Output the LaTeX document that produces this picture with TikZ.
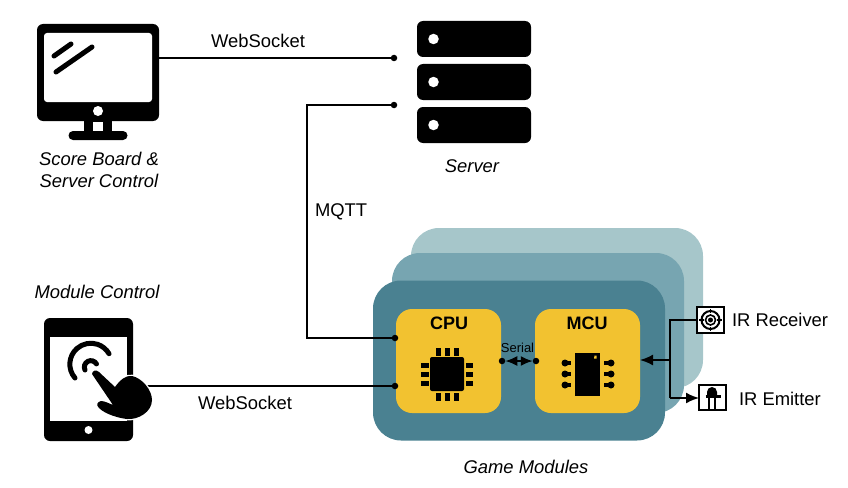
\documentclass[tikz,border=0pt]{standalone}
\usepackage{fontspec}
\setmainfont{Liberation Sans}
\usetikzlibrary{arrows.meta}
\definecolor{stackA}{HTML}{A6C6CA}
\definecolor{stackB}{HTML}{77A5B1}
\definecolor{stackC}{HTML}{4A8191}
\definecolor{chipY}{HTML}{F2C230}
\tikzset{
  base/.style={inner sep=0pt,outer sep=0pt},
  solidbox/.style={base,fill=black,rounded corners=6pt},
  whitebox/.style={base,fill=white,rounded corners=3pt},
  layerbox/.style={base,rounded corners=28pt,minimum width=292pt,minimum height=160pt},
  yellowbox/.style={base,fill=chipY,rounded corners=16pt,minimum width=105pt,minimum height=104pt},
  iconbox/.style={base,draw=black,fill=white,line width=1.6pt},
  joint/.style={base,circle,fill=black,minimum size=6.5pt},
  wire/.style={draw=black,line width=1.8pt},
  pin/.style={line width=6pt,line cap=round,black},
  lab/.style={base,font=\fontsize{18.4}{22}\selectfont,align=center},
  ilab/.style={base,font=\fontsize{18.4}{21.5}\selectfont\itshape,align=center},
  tip/.style={-{Latex[length=13pt,width=11pt]}}
}
\begin{document}
\begin{tikzpicture}[x=1pt,y=-1pt]
\useasboundingbox (0,0) rectangle (848,487);
% game module stack
\node[layerbox,fill=stackA] (back) at (557,308) {};
\node[layerbox,fill=stackB] (mid) at (538,333) {};
\node[layerbox,fill=stackC] (front) at (519,360.5) {};
\node[yellowbox] (cpu) at (448.5,361) {};
\node[yellowbox] (mcu) at (587.5,361) {};
\node[base,font=\fontsize{18}{20}\selectfont\bfseries] (cputext) at (449,323) {CPU};
\node[base,font=\fontsize{18}{20}\selectfont\bfseries] (mcutext) at (587,323) {MCU};
% CPU chip
\node[base,fill=black,rounded corners=2pt,minimum width=34pt,minimum height=34pt] (chip) at (447,374) {};
\foreach \x in {438,447,456}{
  \draw[pin,line cap=rect,rounded corners=1pt,line width=5pt] (\x,350) -- (\x,353);
  \draw[pin,line cap=rect,line width=5pt] (\x,395) -- (\x,398);
}
\foreach \y in {365,374,383}{
  \draw[pin,line cap=rect,line width=5pt] (423.5,\y) -- (426,\y);
  \draw[pin,line cap=rect,line width=5pt] (468,\y) -- (470.5,\y);
}
% MCU chip
\node[base,fill=black,minimum width=25pt,minimum height=43pt] (mcuchip) at (587.5,374.5) {};
\fill[chipY] (594,358.5) -- (596.5,358.5) -- (596.5,355.5) -- (594.5,355.5) -- cycle;
\foreach \y in {363,374,385}{
  \draw[line width=4pt,black] (565,\y) -- (571,\y);
  \fill (565,\y) circle (3.5pt);
  \draw[line width=4pt,black] (604,\y) -- (611,\y);
  \fill (611,\y) circle (3.5pt);
}
% monitor
\node[solidbox,minimum width=122pt,minimum height=97pt] (monitor) at (98,72.5) {};
\node[whitebox,minimum width=108pt,minimum height=69pt] (screen) at (98,67.5) {};
\node[base,circle,fill=white,minimum size=10pt] (mbutton) at (98,111) {};
\node[base,fill=black,minimum width=28pt,minimum height=12pt] (mstand) at (98,126) {};
\node[base,fill=white,minimum width=10pt,minimum height=9pt] (mgap) at (98,126) {};
\node[base,fill=black,rounded corners=4.5pt,minimum width=59pt,minimum height=9pt] (mfoot) at (98,135.5) {};
\draw[line width=5pt,line cap=round] (54,56) -- (71,44);
\draw[line width=5pt,line cap=round] (56,72) -- (92,47);
% server
\node[solidbox,minimum width=114pt,minimum height=36pt] (srv1) at (474,39) {};
\node[solidbox,minimum width=114pt,minimum height=36pt] (srv2) at (474,82) {};
\node[solidbox,minimum width=114pt,minimum height=36pt] (srv3) at (474,125) {};
\node[base,circle,fill=white,minimum size=10.5pt] (led1) at (433.5,39) {};
\node[base,circle,fill=white,minimum size=10.5pt] (led2) at (433.5,82) {};
\node[base,circle,fill=white,minimum size=10.5pt] (led3) at (433.5,125) {};
% tablet body
\node[solidbox,minimum width=89pt,minimum height=123pt] (tablet) at (88.5,379.5) {};
\node[base,fill=white,minimum width=77pt,minimum height=84pt] (tscreen) at (88.5,379) {};
\node[base,circle,fill=white,minimum size=8pt] (tbutton) at (88.5,430) {};
\draw[line width=5pt,line cap=round] (75,378) arc[start angle=221,end angle=30,radius=21pt];
\draw[line width=5pt,line cap=round] (85,370) arc[start angle=206,end angle=30,radius=6.5pt];
% joints
\node[joint] (s1) at (394,58) {};
\node[joint] (s2) at (394,105) {};
\node[joint] (c1) at (395,338) {};
\node[joint] (c2) at (395,386) {};
\node[joint] (sl) at (502,361) {};
\node[joint] (sr) at (536,361) {};
\coordinate (bend1) at (307,105);
\coordinate (bend2) at (307,338);
% connectors
\draw[wire] (monitor.east |- s1) -- (s1);
\draw[wire] (s2) -- (bend1) -- (bend2) -- (c1);
\draw[wire] (tablet.east |- c2) -- (c2);
\draw[wire,{Latex[length=12pt,width=10pt]}-{Latex[length=12pt,width=10pt]}] (sl) -- (sr);
% IR
\node[iconbox,minimum width=27pt,minimum height=26pt] (recv) at (710.5,320) {};
\node[iconbox,minimum width=27pt,minimum height=25pt] (emit) at (712.5,397.5) {};
\coordinate (jt) at (670,320);
\coordinate (jm) at (670,360);
\coordinate (jb) at (670,398);
\draw[wire] (recv.west) -- (jt) -- (jb);
\draw[wire,tip] (jm) -- (mcu.east |- jm);
\draw[wire,tip] (jb) -- (emit.west |- jb);
% receiver icon
\draw[line width=2pt] (710.5,320) circle (9pt);
\draw[line width=1.6pt] (710.5,320) circle (5pt);
\fill (710.5,320) circle (2.5pt);
\draw[line width=1.4pt] (699,320) -- (704,320) (717,320) -- (722,320) (710.5,309) -- (710.5,313) (710.5,327) -- (710.5,331);
% emitter icon
\fill (707,396) -- (707,392) arc[start angle=180,end angle=0,radius=5pt] -- (717,396) -- cycle;
\draw[line width=2.2pt] (705.5,396.5) -- (720.5,396.5);
\draw[line width=1.4pt] (709,397) -- (709,410) (715,397) -- (715,410);
% hand on top of the tablet
\def\handpath{(92,374) .. controls (92,371) and (96,369) .. (99,372) -- (115,387)
  .. controls (120,380) and (126,375) .. (132,376)
  .. controls (142,378) and (152,390) .. (152,400)
  .. controls (152,412) and (138,420) .. (127,419)
  .. controls (118,418) and (105,414) .. (99,408)
  .. controls (96,405) and (97,402) .. (101,401)
  .. controls (105,401) and (110,404) .. (113,405) -- cycle}
\draw[white,line width=2.6pt] \handpath;
\fill[black] \handpath;
% labels
\node[lab] (t1) at (258,41) {WebSocket};
\node[lab] (t2) at (245,403) {WebSocket};
\node[lab,anchor=west] (t3) at (315,212) {MQTT};
\node[ilab] (t4) at (99,170) {Score Board \&\\Server Control};
\node[ilab] (t5) at (472,166) {Server};
\node[ilab] (t6) at (97,292) {Module Control};
\node[ilab] (t7) at (526,467) {Game Modules};
\node[lab,anchor=west] (t8) at (732,320) {IR Receiver};
\node[lab,anchor=west] (t9) at (739,399) {IR Emitter};
\node[base,font=\fontsize{13}{15}\selectfont] (t10) at (517.5,348) {Serial};
\end{tikzpicture}
\end{document}
